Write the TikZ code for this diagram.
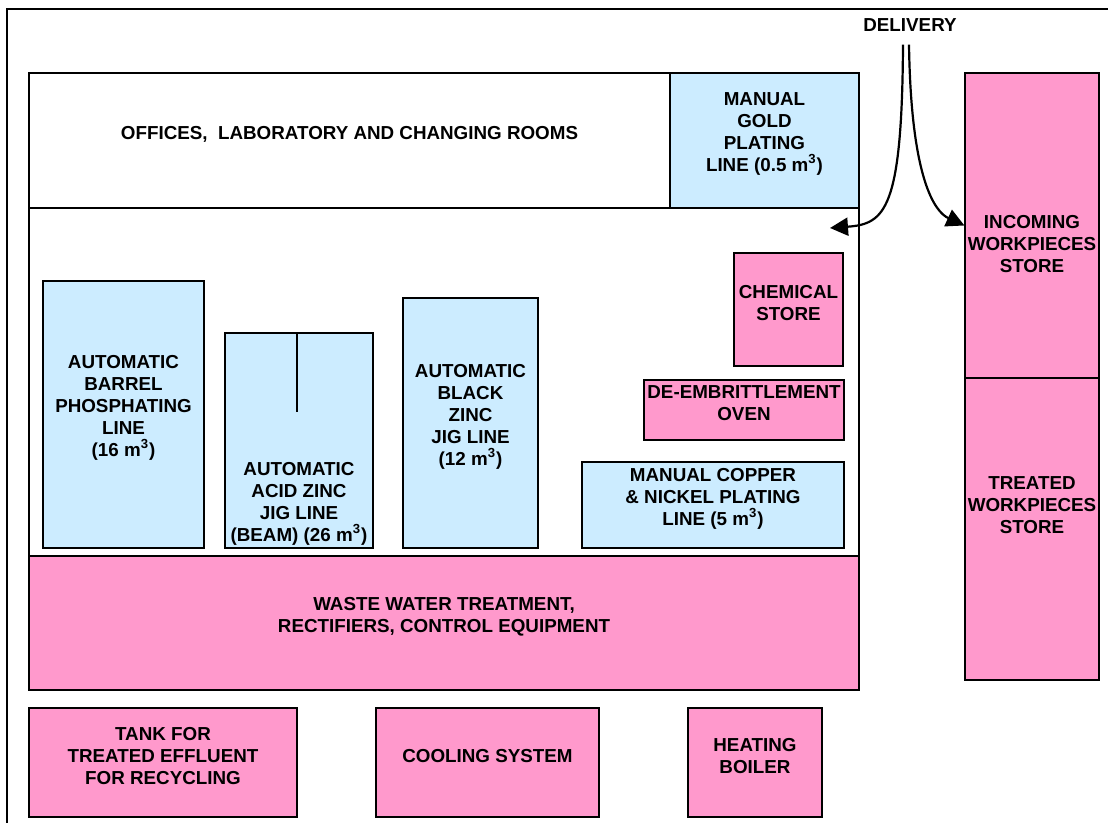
\documentclass[tikz,border=0pt]{standalone}
\usepackage{fontspec}
\setmainfont{Liberation Sans}
\usetikzlibrary{arrows.meta,fit,calc}
\definecolor{roompink}{HTML}{FF99CC}
\definecolor{roomblue}{HTML}{CCECFF}
\newcommand{\labelfont}{\bfseries\fontsize{9.4}{11}\selectfont}
\tikzset{
  room/.style={draw=black, line width=0.6pt, inner sep=0pt, align=center, font=\labelfont},
  pinkroom/.style={room, fill=roompink},
  blueroom/.style={room, fill=roomblue},
  txt/.style={align=center, font=\labelfont},
  flow/.style={line width=1.1pt, -{Triangle[length=9pt,width=9pt]}}
}
\begin{document}
\begin{tikzpicture}[x=0.5pt,y=-0.5pt]
  \useasboundingbox (0,0) rectangle (1108,823);
  % page frame
  \draw[line width=1.2pt] (7,823) -- (7,9) -- (1108,9);

  % building
  \node[room, fit={(29,73) (670,208)}] (offices) {OFFICES,\ \ LABORATORY AND CHANGING ROOMS};
  \node[blueroom, fit={(670,73) (859,208)}] (gold) {MANUAL\\GOLD\\PLATING\\LINE (0.5 m\textsuperscript{3})};
  \node[room, fit={(29,208) (859,556)}] (hall) {};
  \node[pinkroom, fit={(29,556) (859,690)}] (waste) {WASTE WATER TREATMENT,\\RECTIFIERS, CONTROL EQUIPMENT};

  % lines in the hall
  \node[blueroom, fit={(43,281) (204,548)}] (barrel) {AUTOMATIC\\BARREL\\PHOSPHATING\\LINE\\(16 m\textsuperscript{3})};
  \node[blueroom, fit={(225,333) (373,548)}] (acid) {};
  \draw[line width=0.6pt] (acid.north) ++(-2,0) -- ++(0,80);
  \node[txt] (acidtxt) at (299,504) {AUTOMATIC\\ACID ZINC\\JIG LINE\\(BEAM) (26 m\textsuperscript{3})};
  \node[blueroom, fit={(403,298) (538,548)}] (black) {AUTOMATIC\\BLACK\\ZINC\\JIG LINE\\(12 m\textsuperscript{3})};
  \node[pinkroom, fit={(734,253) (843,366)}] (chemical) {CHEMICAL\\STORE};
  \node[pinkroom, fit={(644,380) (844,440)}] (oven) {DE-EMBRITTLEMENT\\OVEN};
  \node[blueroom, fit={(582,462) (844,548)}] (copper) {MANUAL COPPER\\\& NICKEL PLATING\\LINE (5 m\textsuperscript{3})};

  % outside units
  \node[pinkroom, fit={(29,708) (297,817)}] (tank) {TANK FOR\\TREATED EFFLUENT\\FOR RECYCLING};
  \node[pinkroom, fit={(376,708) (599,817)}] (cooling) {COOLING SYSTEM};
  \node[pinkroom, fit={(688,708) (822,817)}] (boiler) {HEATING\\BOILER};

  % stores
  \node[pinkroom, fit={(965,73) (1099,378)}] (incoming) {};
  \node[txt] (incomingtxt) at (1032,244) {INCOMING\\WORKPIECES\\STORE};
  \node[pinkroom, fit={(965,378) (1099,680)}] (treated) {};
  \node[txt] (treatedtxt) at (1032,505) {TREATED\\WORKPIECES\\STORE};

  % delivery
  \node[txt] (delivery) at (910,25) {DELIVERY};
  \coordinate (hallin) at (830,228);
  \draw[flow] ($(delivery.south)+(-7,6)$) .. controls (902,210) and (885,224) .. (hallin);
  \draw[flow] ($(delivery.south)+(-1,6)$) .. controls (911,180) and (935,212) .. (incoming.west);
\end{tikzpicture}
\end{document}
